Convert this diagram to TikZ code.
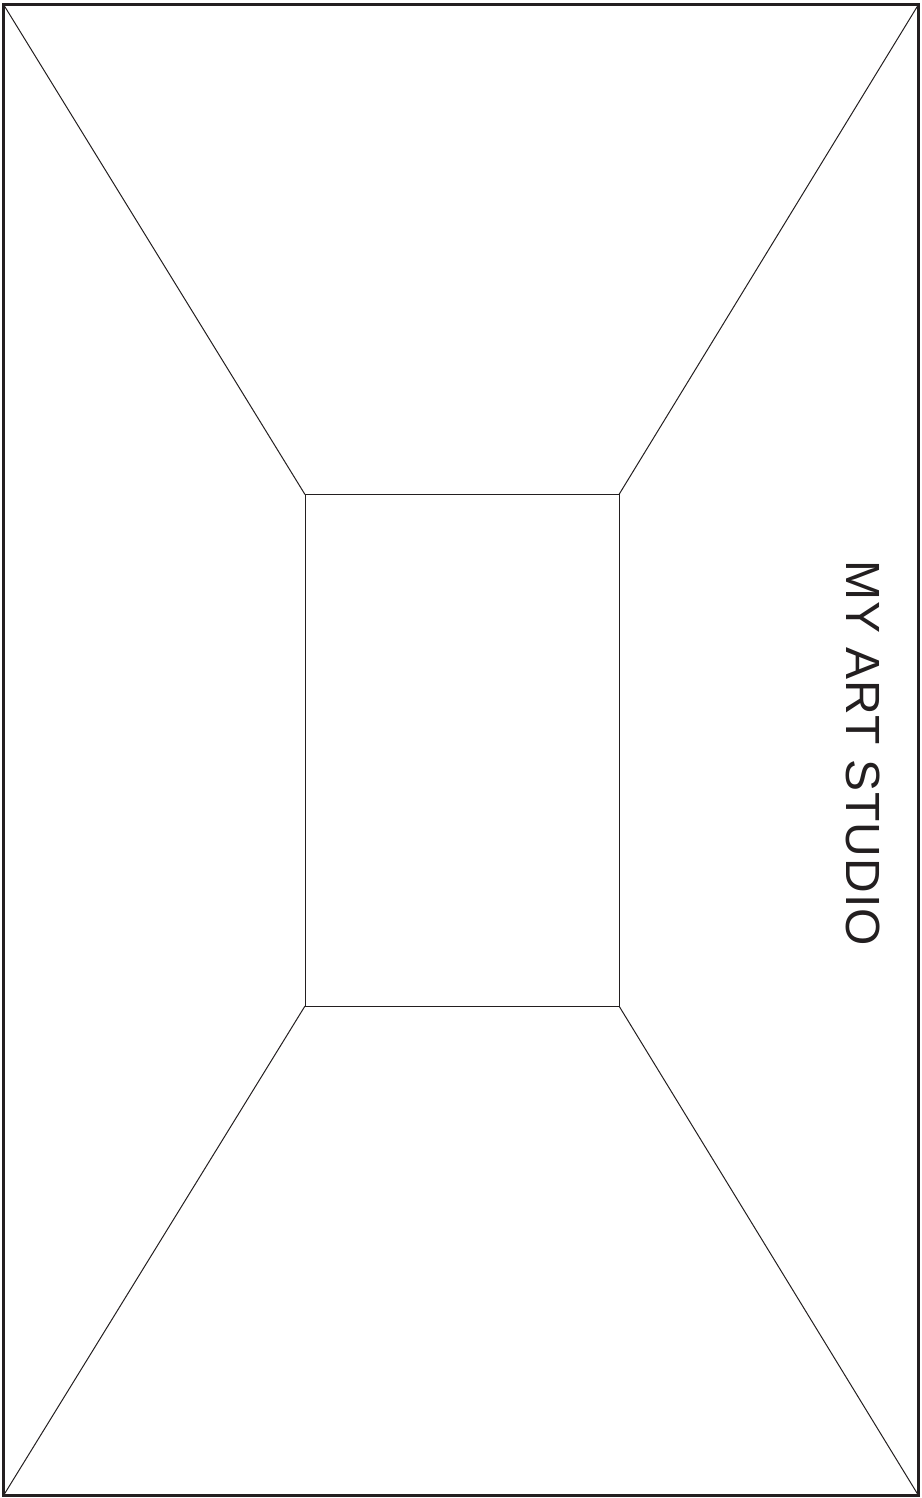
\documentclass[tikz,border=0pt]{standalone}
\usepackage{fontspec}
\setmainfont{Liberation Sans}
\newfontfamily\signfont[LetterSpace=2.2]{Liberation Sans}
\definecolor{ink}{HTML}{231F20}
\tikzset{
  frame/.style={draw=ink,line width=3.5pt},
  wall/.style={draw=ink,line width=1pt},
  title/.style={text=ink,rotate=-90,inner sep=0pt,font=\signfont\fontsize{48}{48}\selectfont}
}

\begin{document}
\begin{tikzpicture}[x=1pt,y=-1pt]
  \useasboundingbox (0,0) rectangle (921,1498);
  \coordinate (o1) at (3.5,4.5);
  \coordinate (o2) at (918.5,4.5);
  \coordinate (o3) at (918.5,1495.5);
  \coordinate (o4) at (3.5,1495.5);
  \coordinate (i1) at (305,494.5);
  \coordinate (i2) at (619,494.5);
  \coordinate (i3) at (619,1006);
  \coordinate (i4) at (305,1006);
  \foreach \k in {1,...,4}
    \draw[wall] (o\k) -- (i\k);
  \draw[wall] (i1) rectangle (i3);
  \draw[frame] (o1) rectangle (o3);
  \node[title] (studio) at (863,753) {MY ART STUDIO};
\end{tikzpicture}
\end{document}
